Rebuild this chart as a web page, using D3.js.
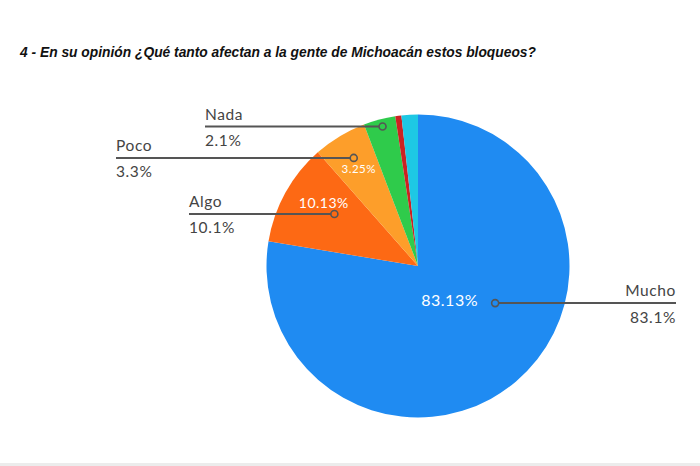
<!DOCTYPE html>
<html>
<head>
<meta charset="utf-8">
<script src="https://cdn.jsdelivr.net/npm/d3@7"></script>
<style>
  body { margin: 0; background: #fff; }
  svg { display: block; }
</style>
</head>
<body>
<div id="chart"></div>
<script>
// data (slice sizes as drawn, labels as printed)
var categories = ["Mucho", "Algo", "Poco", "Nada", "", ""];
var sliceValues = [77.6, 10.9, 5.7, 3.4, 0.65, 1.75];
var innerLabels = ["83.13%", "10.13%", "3.25%", "", "", ""];
var outerLabels = ["83.1%", "10.1%", "3.3%", "2.1%", "", ""];
var colors = ["#1f8bf2", "#fd6914", "#fd9e2a", "#2fcb4b", "#cc2222", "#1ec8e4"];

var width = 700, height = 466;
var cx = 418, cy = 266, R = 151.5;

// label layout (leader lines)
var layout = {
  "Mucho": {r: 0.565, shift: -24, textX: 676, anchor: "end"},
  "Algo":  {r: 0.65,  shift: 2.9, textX: 189, anchor: "start"},
  "Poco":  {r: 0.83,  shift: 0.4, textX: 116, anchor: "start"},
  "Nada":  {r: 0.95,  shift: 0.5, textX: 205, anchor: "start"}
};
var innerPos = {
  "Mucho": {r: 0.31, shift: -2,  size: 16},
  "Algo":  {r: 0.75, shift: 5,   size: 14},
  "Poco":  {r: 0.75, shift: -0.3, size: 11.5}
};

var svg = d3.select("#chart")
  .append("svg")
    .attr("width", width)
    .attr("height", height);

svg.append("rect")
  .attr("x", 0).attr("y", 463)
  .attr("width", width).attr("height", 3)
  .attr("fill", "#ececec");

// title
svg.append("text")
  .attr("x", 20)
  .attr("y", 57)
  .attr("font-family", "'Liberation Sans', Arial, sans-serif")
  .attr("font-weight", "bold")
  .attr("font-style", "italic")
  .attr("font-size", 13.8)
  .attr("fill", "#111")
  .text("4 - En su opinión ¿Qué tanto afectan a la gente de Michoacán estos bloqueos?");

var pie = d3.pie().sort(null).value(function(d) { return d; });
var arcs = pie(sliceValues);
arcs.forEach(function(a, i) { a.name = categories[i]; a.color = colors[i]; a.i = i; });

var arc = d3.arc().innerRadius(0).outerRadius(R);

var g = svg.append("g")
  .attr("transform", "translate(" + cx + "," + cy + ")");

g.selectAll("path")
  .data(arcs)
  .enter().append("path")
    .attr("d", arc)
    .attr("fill", function(d) { return d.color; });

function polar(angle, r) {
  return [Math.sin(angle) * r, -Math.cos(angle) * r];
}

var lines = svg.append("g");
var texts = svg.append("g");

// leader lines + outer labels
var labelled = arcs.filter(function(d) { return outerLabels[d.i]; });
labelled.forEach(function(d) {
  var L = layout[d.name];
  var mid = (d.startAngle + d.endAngle) / 2 + L.shift * Math.PI / 180;
  var p = polar(mid, L.r * R);
  var px = cx + p[0], py = cy + p[1];

  lines.append("line")
    .attr("x1", px).attr("y1", py)
    .attr("x2", L.textX).attr("y2", py)
    .attr("stroke", "#555")
    .attr("stroke-width", 2);

  lines.append("circle")
    .attr("cx", px).attr("cy", py)
    .attr("r", 3.5)
    .attr("fill", d.color)
    .attr("stroke", "#555")
    .attr("stroke-width", 1.6);

  texts.append("text")
    .attr("x", L.textX)
    .attr("y", py - 7)
    .attr("text-anchor", L.anchor)
    .attr("font-family", "Lato, sans-serif")
    .attr("font-size", 15.5)
    .attr("letter-spacing", 0.6)
    .attr("fill", "#444")
    .text(d.name);

  texts.append("text")
    .attr("x", L.textX)
    .attr("y", py + 19.5)
    .attr("text-anchor", L.anchor)
    .attr("font-family", "Lato, sans-serif")
    .attr("font-size", 15.5)
    .attr("letter-spacing", 0.6)
    .attr("fill", "#444")
    .text(outerLabels[d.i]);
});

// inner percentage labels
texts.selectAll("text.inner")
  .data(arcs.filter(function(d) { return innerLabels[d.i]; }))
  .enter().append("text")
    .attr("class", "inner")
    .attr("transform", function(d) {
      var P = innerPos[d.name];
      var mid = (d.startAngle + d.endAngle) / 2 + P.shift * Math.PI / 180;
      var p = polar(mid, P.r * R);
      return "translate(" + (cx + p[0]) + "," + (cy + p[1]) + ")";
    })
    .attr("dy", "0.36em")
    .attr("text-anchor", "middle")
    .attr("font-family", "Lato, sans-serif")
    .attr("letter-spacing", 0.5)
    .attr("font-size", function(d) { return innerPos[d.name].size; })
    .attr("fill", "#fff")
    .text(function(d) { return innerLabels[d.i]; });
</script>
</body>
</html>
